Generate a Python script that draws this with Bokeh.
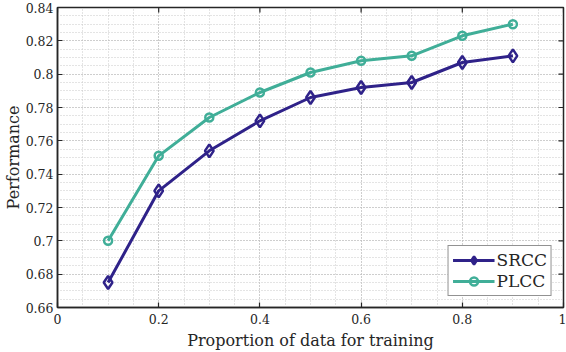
from bokeh.plotting import figure
from bokeh.models import FixedTicker, Range1d, Legend, LegendItem
from bokeh.embed import file_html
from bokeh.resources import INLINE
import numpy as np

proportion = [0.1, 0.2, 0.3, 0.4, 0.5, 0.6, 0.7, 0.8, 0.9]
srcc = [0.675, 0.730, 0.754, 0.772, 0.786, 0.792, 0.795, 0.807, 0.811]
plcc = [0.700, 0.751, 0.774, 0.789, 0.801, 0.808, 0.811, 0.823, 0.830]

x_ticks = [0, 0.2, 0.4, 0.6, 0.8, 1]
x_tick_labels = ["0", "0.2", "0.4", "0.6", "0.8", "1"]
y_ticks = [0.66, 0.68, 0.7, 0.72, 0.74, 0.76, 0.78, 0.8, 0.82, 0.84]
y_tick_labels = ["0.66", "0.68", "0.7", "0.72", "0.74", "0.76", "0.78", "0.8", "0.82", "0.84"]
x_lim = (0, 1)
y_lim = (0.66, 0.84)

SRCC_COLOR = "#2f2289"
PLCC_COLOR = "#40ae98"
AX_COLOR = "#262626"
FONT = "DejaVu Serif"

x_minor = [round(v, 3) for v in np.arange(0, 1.0001, 0.05)]
y_minor = [round(v, 4) for v in np.arange(0.66, 0.84001, 0.005)]

p = figure(width=566, height=352, output_backend="svg", toolbar_location=None,
           x_range=Range1d(*x_lim), y_range=Range1d(*y_lim),
           min_border_left=0, min_border_right=3, min_border_top=7, min_border_bottom=0)
p.background_fill_color = "white"
p.border_fill_color = "white"
p.outline_line_color = AX_COLOR
p.outline_line_width = 1.5

p.xaxis.ticker = FixedTicker(ticks=x_ticks, minor_ticks=x_minor)
p.yaxis.ticker = FixedTicker(ticks=y_ticks, minor_ticks=y_minor)
p.xaxis.major_label_overrides = dict(zip(x_ticks, x_tick_labels))
p.yaxis.major_label_overrides = dict(zip(y_ticks, y_tick_labels))

for ax in (p.xaxis[0], p.yaxis[0]):
    ax.axis_line_color = AX_COLOR
    ax.axis_line_width = 1.5
    ax.major_tick_in = 5
    ax.major_tick_out = 0
    ax.minor_tick_in = 0
    ax.minor_tick_out = 0
    ax.major_tick_line_color = AX_COLOR
    ax.major_tick_line_width = 1.2
    ax.major_label_text_font = FONT
    ax.major_label_text_font_size = "12.5px"
    ax.major_label_text_color = AX_COLOR
    ax.axis_label_text_font = FONT
    ax.axis_label_text_font_style = "normal"
    ax.axis_label_text_font_size = "16px"
    ax.axis_label_text_color = AX_COLOR

p.xaxis.axis_label = "Proportion of data for training"
p.yaxis.axis_label = "Performance"
p.xaxis.major_label_standoff = 6
p.yaxis.major_label_standoff = 4
p.xaxis.axis_label_standoff = 4
p.yaxis.axis_label_standoff = 0

# box ticks on top and right edges (inward), drawn at the tick positions
p.scatter(x_ticks, [y_lim[1]] * len(x_ticks), marker="dash", angle=np.pi / 2, size=10,
          line_color=AX_COLOR, line_width=1.2)
p.scatter([x_lim[1]] * len(y_ticks), y_ticks, marker="dash", size=10,
          line_color=AX_COLOR, line_width=1.2)

for g in (p.xgrid[0], p.ygrid[0]):
    g.grid_line_color = "#b8b8b8"
    g.grid_line_dash = "1 2"
    g.grid_line_width = 1
    g.minor_grid_line_color = "#c8c8c8"
    g.minor_grid_line_dash = "1 2"
    g.minor_grid_line_width = 1

l1 = p.line(proportion, srcc, line_color=SRCC_COLOR, line_width=3)
m1 = p.scatter(proportion, srcc, marker="diamond", size=13, line_color=SRCC_COLOR,
               line_width=2.5, fill_color=None)
l2 = p.line(proportion, plcc, line_color=PLCC_COLOR, line_width=3)
m2 = p.scatter(proportion, plcc, marker="circle", size=8, line_color=PLCC_COLOR,
               line_width=2.5, fill_color=None)

legend = Legend(items=[LegendItem(label="SRCC", renderers=[l1, m1]),
                       LegendItem(label="PLCC", renderers=[l2, m2])],
                location="bottom_right")
legend.border_line_color = AX_COLOR
legend.border_line_width = 1.5
legend.background_fill_alpha = 1
legend.label_text_font = FONT
legend.label_text_font_size = "17px"
legend.label_text_color = AX_COLOR
legend.glyph_width = 42
legend.glyph_height = 20
legend.spacing = 1
legend.padding = 4
legend.margin = 11
legend.label_standoff = 2
p.add_layout(legend)

open("out.html", "w").write(file_html(p, INLINE))
